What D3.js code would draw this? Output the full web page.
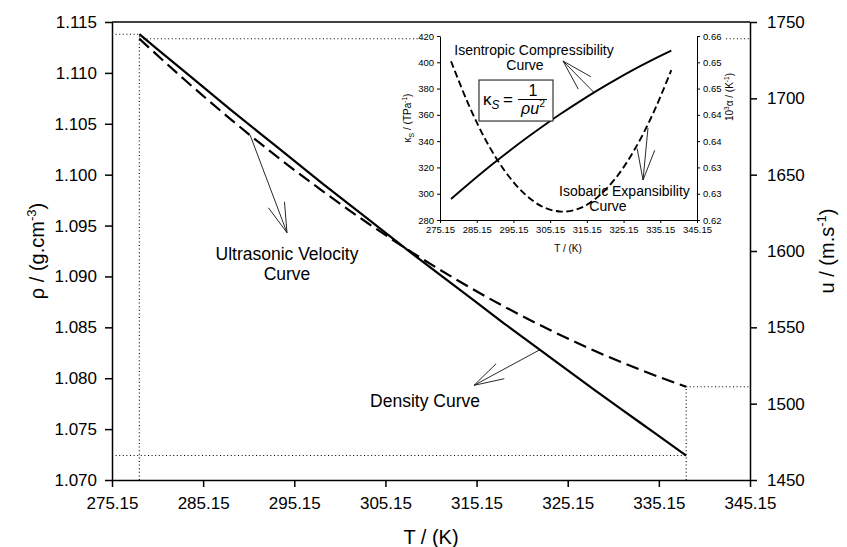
<!DOCTYPE html>
<html><head><meta charset="utf-8">
<script src="https://cdn.jsdelivr.net/npm/d3@7"></script>
<style>
body{margin:0;background:#fff}
svg{display:block}
text{font-family:"Liberation Sans",Arial,sans-serif;fill:#000}
</style>
</head><body>
<svg id="c" width="847" height="547"></svg>
<script>
// ---------- data ----------
const temps = [278.15,283.15,288.15,293.15,298.15,303.15,308.15,313.15,318.15,323.15,328.15,333.15,338.15];
const density = [1.1138,1.1101,1.1064,1.1028,1.0992,1.0957,1.0922,1.0888,1.0854,1.0821,1.0788,1.0756,1.0724];
const velocity = [1739,1712.0,1686.4,1662.3,1639.7,1618.5,1598.8,1580.5,1563.7,1548.4,1534.5,1522.1,1511.1];
const compressibility = [296,308.0,319.6,330.6,341.2,351.3,361.0,370.1,378.8,387.0,394.8,402.0,408.8];
const expansibility = [0.6502,0.6416,0.6345,0.6290,0.6250,0.6225,0.6216,0.6222,0.6244,0.6281,0.6334,0.6402,0.6485];

const tTicks = [275.15,285.15,295.15,305.15,315.15,325.15,335.15,345.15];
const rhoTicks = [1.070,1.075,1.080,1.085,1.090,1.095,1.100,1.105,1.110,1.115];
const uTicks = [1450,1500,1550,1600,1650,1700,1750];
const kTicks = [280,300,320,340,360,380,400,420];
const aTicks = [0.620,0.625,0.630,0.635,0.640,0.645,0.650,0.655];
const aTickLabels = ["0.62","0.63","0.63","0.64","0.64","0.65","0.65","0.66"];

// annotations (data coordinates)
const mainNotes = [
  {lines:["Ultrasonic Velocity","Curve"], T:294.35, rho:[1.09162,1.08966], from:[290.3,1.1039], to:[294.35,1.0943]},
  {lines:["Density Curve"], T:309.5, rho:[1.07719], from:[322.1,1.0828], to:[314.87,1.0793]}
];
const insetNotes = [
  {lines:["Isentropic Compressibility","Curve"], T:[300.76,298.3], k:[405.6,394.2], from:[317.1,377], to:[308.65,401.0]},
  {lines:["Isobaric Expansibility","Curve"], T:[325.4,320.9], k:[298.3,286.6], from:[331.8,350], to:[330.45,310.4]}
];
const formulaBox = {T:[285.77,305.93], k:[386.5,355.3]};

// ---------- main chart ----------
const svg = d3.select("#c");
const x = d3.scaleLinear([275.15,345.15],[112,750]);
const yR = d3.scaleLinear([1.070,1.115],[480,22]);
const yU = d3.scaleLinear([1450,1750],[480,22]);

function styleAxis(g, w){
  g.select(".domain").attr("stroke","#000").attr("stroke-width",w);
  g.selectAll(".tick line").attr("stroke","#000").attr("stroke-width",w);
}
function rich(t, parts, fs){
  parts.forEach((p,i)=>{
    const ts = t.append("tspan").text(p.t);
    if(p.sup){ ts.attr("font-size",fs*0.65).attr("dy",-fs*0.42); }
    else if(p.sub){ ts.attr("font-size",fs*0.7).attr("dy",fs*0.25); }
    else if(i>0 && (parts[i-1].sup)){ ts.attr("dy",fs*0.42); }
    else if(i>0 && (parts[i-1].sub)){ ts.attr("dy",-fs*0.25); }
    if(p.it) ts.attr("font-style","italic");
  });
}
function arrow(g, x1,y1,x2,y2,len,angDeg){
  const a = Math.atan2(y1-y2, x1-x2), d = angDeg*Math.PI/180;
  const w1=[x2+len*Math.cos(a+d), y2+len*Math.sin(a+d)];
  const w2=[x2+len*Math.cos(a-d), y2+len*Math.sin(a-d)];
  g.append("path").attr("d",`M${x1},${y1}L${x2},${y2}M${w1[0]},${w1[1]}L${x2},${y2}L${w2[0]},${w2[1]}`)
    .attr("fill","none").attr("stroke","#111").attr("stroke-width",0.9);
}

// dotted guide lines
const n = temps.length-1;
const dot = svg.append("g").attr("stroke","#000").attr("stroke-width",1.1).attr("stroke-dasharray","1,2.6").attr("fill","none");
const guides = [
  [x(275.15), yR(density[0]), x(temps[0]), yR(density[0])],
  [x(temps[0]), yU(velocity[0]), x(345.15), yU(velocity[0])],
  [x(temps[0]), yR(1.070), x(temps[0]), yR(density[0])],
  [x(275.15), yR(density[n]), x(temps[n]), yR(density[n])],
  [x(temps[n]), yU(velocity[n]), x(345.15), yU(velocity[n])],
  [x(temps[n]), yR(1.070), x(temps[n]), yU(velocity[n])]
];
guides.forEach(l=>dot.append("line").attr("x1",l[0]).attr("y1",l[1]).attr("x2",l[2]).attr("y2",l[3]));

// curves
const lineR = d3.line().x((d,i)=>x(temps[i])).y(d=>yR(d)).curve(d3.curveMonotoneX);
const lineU = d3.line().x((d,i)=>x(temps[i])).y(d=>yU(d)).curve(d3.curveMonotoneX);
svg.append("path").attr("d",lineR(density)).attr("fill","none").attr("stroke","#000").attr("stroke-width",2.2);
svg.append("path").attr("d",lineU(velocity)).attr("fill","none").attr("stroke","#000").attr("stroke-width",2.2).attr("stroke-dasharray","13,6");

// axes
const gx = svg.append("g").attr("transform","translate(0,480)")
  .call(d3.axisBottom(x).tickValues(tTicks).tickFormat(d3.format(".2f")).tickSizeInner(7).tickSizeOuter(0).tickPadding(10));
const gl = svg.append("g").attr("transform","translate(112,0)")
  .call(d3.axisLeft(yR).tickValues(rhoTicks).tickFormat(d3.format(".3f")).tickSizeInner(7).tickSizeOuter(0).tickPadding(8));
const gr = svg.append("g").attr("transform","translate(750,0)")
  .call(d3.axisRight(yU).tickValues(uTicks).tickFormat(d3.format("d")).tickSizeInner(7).tickSizeOuter(0).tickPadding(10));
[gx,gl,gr].forEach(g=>{styleAxis(g,1.5); g.selectAll("text").attr("font-size",17).attr("font-family","Liberation Sans, Arial, sans-serif");});
svg.append("line").attr("x1",112).attr("x2",750).attr("y1",22).attr("y2",22).attr("stroke","#000").attr("stroke-width",1.5);

// axis titles
svg.append("text").attr("x",431).attr("y",544).attr("text-anchor","middle").attr("font-size",20).text("T / (K)");
const tl = svg.append("text").attr("transform","translate(44,251) rotate(-90)").attr("text-anchor","middle").attr("font-size",20);
rich(tl,[{t:"ρ / (g.cm"},{t:"-3",sup:true},{t:")"}],20);
const tr = svg.append("text").attr("transform","translate(834,251) rotate(-90)").attr("text-anchor","middle").attr("font-size",20);
rich(tr,[{t:"u / (m.s"},{t:"-1",sup:true},{t:")"}],20);

// main annotations
mainNotes.forEach(nt=>{
  nt.lines.forEach((s,i)=>svg.append("text").attr("x",x(nt.T)).attr("y",yR(nt.rho[i])).attr("text-anchor","middle").attr("font-size",17.5).text(s));
  arrow(svg, x(nt.from[0]), yR(nt.from[1]), x(nt.to[0]), yR(nt.to[1]), 31, 16);
});

// ---------- inset ----------
const ix = d3.scaleLinear([275.15,345.15],[440,697]);
const iyK = d3.scaleLinear([280,420],[220,36]);
const iyA = d3.scaleLinear([0.620,0.655],[220,36]);
const ins = svg.append("g");
ins.append("rect").attr("x",424).attr("y",30).attr("width",301).attr("height",228).attr("fill","#fff");

const lineK = d3.line().x((d,i)=>ix(temps[i])).y(d=>iyK(d)).curve(d3.curveMonotoneX);
const lineA = d3.line().x((d,i)=>ix(temps[i])).y(d=>iyA(d)).curve(d3.curveCatmullRom);
ins.append("path").attr("d",lineK(compressibility)).attr("fill","none").attr("stroke","#000").attr("stroke-width",1.9);
ins.append("path").attr("d",lineA(expansibility)).attr("fill","none").attr("stroke","#000").attr("stroke-width",1.9).attr("stroke-dasharray","7,3.5");

const igx = ins.append("g").attr("transform","translate(0,220)")
  .call(d3.axisBottom(ix).tickValues(tTicks).tickFormat(d3.format(".2f")).tickSizeInner(3).tickSizeOuter(0).tickPadding(3));
const igl = ins.append("g").attr("transform","translate(440,0)")
  .call(d3.axisLeft(iyK).tickValues(kTicks).tickFormat(d3.format("d")).tickSizeInner(3).tickSizeOuter(0).tickPadding(3));
const igr = ins.append("g").attr("transform","translate(697,0)")
  .call(d3.axisRight(iyA).tickValues(aTicks).tickFormat((d,i)=>aTickLabels[i]).tickSizeInner(3).tickSizeOuter(0).tickPadding(3));
[igx,igl,igr].forEach(g=>{styleAxis(g,1); g.selectAll("text").attr("font-size",9.5).attr("font-family","Liberation Sans, Arial, sans-serif");});

ins.append("text").attr("x",568).attr("y",252).attr("text-anchor","middle").attr("font-size",10).text("T / (K)");
const itl = ins.append("text").attr("transform","translate(411,118) rotate(-90)").attr("text-anchor","middle").attr("font-size",10);
rich(itl,[{t:"κ"},{t:"S",sub:true},{t:" / (TPa"},{t:"-1",sup:true},{t:")"}],10);
const itr = ins.append("text").attr("transform","translate(733,97) rotate(-90)").attr("text-anchor","middle").attr("font-size",10);
rich(itr,[{t:"10"},{t:"3",sup:true},{t:"α / (K"},{t:"-1",sup:true},{t:")"}],10);

insetNotes.forEach(nt=>{
  nt.lines.forEach((s,i)=>ins.append("text").attr("x",ix(nt.T[i])).attr("y",iyK(nt.k[i])).attr("text-anchor","middle").attr("font-size",14).text(s));
  arrow(ins, ix(nt.from[0]), iyK(nt.from[1]), ix(nt.to[0]), iyK(nt.to[1]), 32, 16);
});

// formula box
const bx0 = ix(formulaBox.T[0]), bx1 = ix(formulaBox.T[1]), by0 = iyK(formulaBox.k[0]), by1 = iyK(formulaBox.k[1]);
ins.append("rect").attr("x",bx0).attr("y",by0).attr("width",bx1-bx0).attr("height",by1-by0)
  .attr("fill","#fff").attr("stroke","#333").attr("stroke-width",1.2);
const ff = "Liberation Serif, DejaVu Serif, serif";
const kt = ins.append("text").attr("x",bx0+4).attr("y",by0+25).attr("font-size",17).attr("font-family",ff);
rich(kt,[{t:"κ"},{t:"S",sub:true,it:true}],17);
ins.append("text").attr("x",bx0+24).attr("y",by0+25).attr("font-size",17).attr("font-family",ff).text("=");
const fc = bx0 + 54;
ins.append("text").attr("x",fc).attr("y",by0+16).attr("text-anchor","middle").attr("font-size",16).attr("font-family",ff).text("1");
ins.append("line").attr("x1",bx0+39).attr("x2",bx0+68).attr("y1",by0+19.5).attr("y2",by0+19.5).attr("stroke","#000").attr("stroke-width",1);
const den = ins.append("text").attr("x",fc).attr("y",by0+34).attr("text-anchor","middle").attr("font-size",16).attr("font-family",ff);
rich(den,[{t:"ρu",it:true},{t:"2",sup:true}],16);
</script>
</body></html>
